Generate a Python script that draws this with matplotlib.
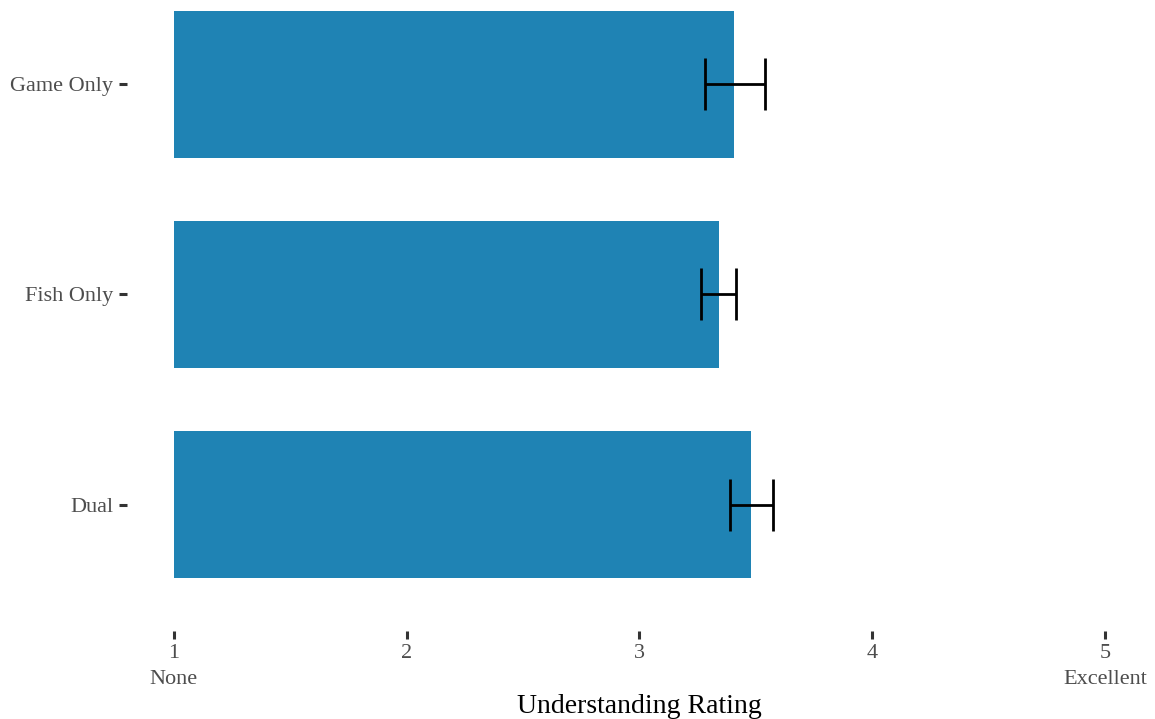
import matplotlib.pyplot as plt

# data
groups = ["Dual", "Fish Only", "Game Only"]
means = [3.48, 3.34, 3.405]
err_low = [3.39, 3.265, 3.28]
err_high = [3.575, 3.415, 3.54]
tick_vals = [1, 2, 3, 4, 5]
tick_labels = ["1\nNone", "2", "3", "4", "5\nExcellent"]

plt.rcParams["font.family"] = ["Liberation Serif", "DejaVu Serif"]

fig = plt.figure(figsize=(11.55, 7.19), dpi=100)
ax = fig.add_axes([127 / 1155, 88 / 719, 1025 / 1155, 631 / 719])

ypos = list(range(len(groups)))
widths = [m - 1 for m in means]
ax.barh(ypos, widths, left=1, height=0.7, color="#1f83b4")

xerr = [[m - lo for m, lo in zip(means, err_low)],
        [hi - m for m, hi in zip(means, err_high)]]
ax.errorbar(means, ypos, xerr=xerr, fmt="none", ecolor="black",
            elinewidth=2.0, capsize=18.5, capthick=2.0)

ax.set_xlim(0.8, 5.2)
ax.set_ylim(-0.6, 2.4)
ax.set_yticks(ypos)
ax.set_yticklabels(groups)
ax.set_xticks(tick_vals)
ax.set_xticklabels(tick_labels, linespacing=1.5)
ax.tick_params(axis="both", colors="#333333", length=6, width=2.2,
               labelsize=16, labelcolor="#4d4d4d")
ax.tick_params(axis="y", pad=4)
ax.tick_params(axis="x", pad=3)
for s in ax.spines.values():
    s.set_visible(False)

ax.set_xlabel("Understanding Rating", fontsize=20, color="black", labelpad=4)

fig.savefig("out.png", dpi=100, facecolor="white")
